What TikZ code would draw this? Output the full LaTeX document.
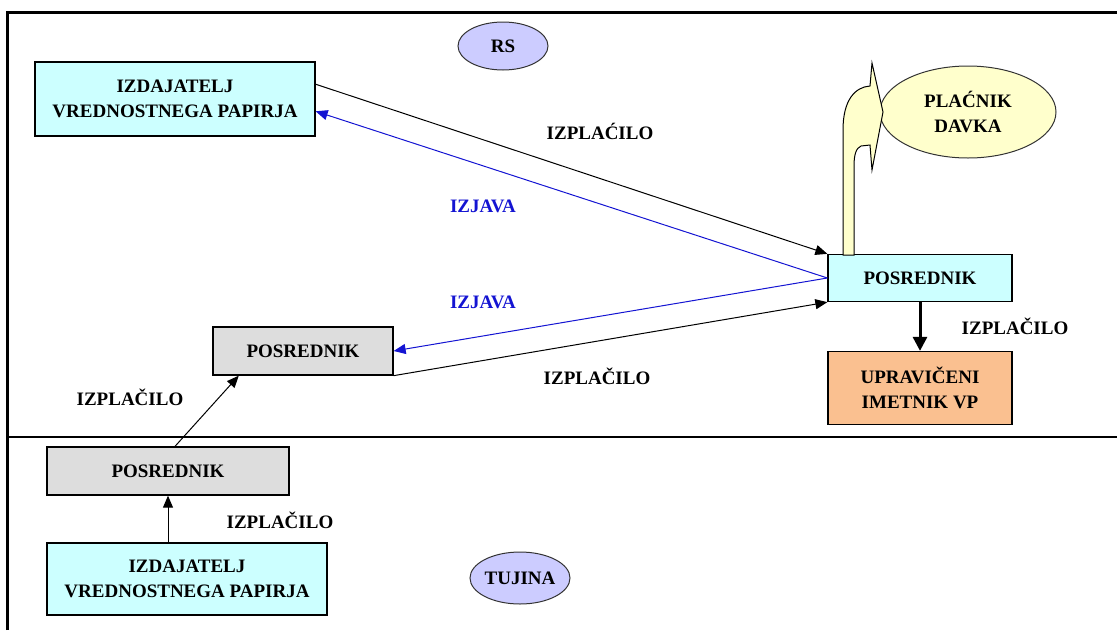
\documentclass[tikz,border=0pt]{standalone}
\usepackage{fontspec}
\setmainfont{Liberation Serif}
\usepackage{tikz}
\usetikzlibrary{arrows.meta,shapes.geometric,positioning}

\definecolor{boxcyan}{RGB}{204,255,255}
\definecolor{boxgrey}{RGB}{221,221,221}
\definecolor{boxorange}{RGB}{250,192,144}
\definecolor{ovallilac}{RGB}{204,204,255}
\definecolor{ovalyellow}{RGB}{255,255,204}
\definecolor{izjblue}{RGB}{20,20,210}

\tikzset{
  box/.style={draw=black, line width=1.3pt, inner sep=0pt, align=center,
    font=\bfseries\fontsize{19}{25}\selectfont},
  oval/.style={ellipse, draw=black!80, line width=1pt, inner sep=0pt, align=center,
    font=\bfseries\fontsize{19}{25}\selectfont},
  lbl/.style={font=\bfseries\fontsize{19}{25}\selectfont},
  arr/.style={line width=1pt, -{Triangle[length=12pt,width=10pt]}}
}

\begin{document}
\begin{tikzpicture}[x=1pt,y=-1pt]
  \useasboundingbox (0,0) rectangle (1117,630);

  % frame and border between RS and abroad
  \draw[line width=3pt] (7.5,630) -- (7.5,12.5) -- (1117,12.5);
  \draw[line width=1.4pt] (7,437) -- (1117,437);

  % RS side
  \node[oval, fill=ovallilac, minimum width=90pt, minimum height=48pt] (rs) at (503,46) {RS};
  \node[box, fill=boxcyan, minimum width=280pt, minimum height=74pt] (izdtop) at (175,99)
    {IZDAJATELJ\\VREDNOSTNEGA PAPIRJA};
  \node[box, fill=boxcyan, minimum width=184pt, minimum height=47pt] (posR) at (920,278) {POSREDNIK};
  \node[box, fill=boxorange, minimum width=184pt, minimum height=73pt] (upr) at (920,388)
    {UPRAVIČENI\\IMETNIK VP};
  \node[box, fill=boxgrey, minimum width=180pt, minimum height=48pt] (posM) at (303,351) {POSREDNIK};
  \node[oval, fill=ovalyellow, minimum width=176pt, minimum height=92pt] (placnik) at (968,112)
    {PLAĆNIK\\DAVKA};

  % abroad
  \node[box, fill=boxgrey, minimum width=242pt, minimum height=48pt] (posL) at (168,471) {POSREDNIK};
  \node[box, fill=boxcyan, minimum width=280pt, minimum height=72pt] (izdbot) at (187,579)
    {IZDAJATELJ\\VREDNOSTNEGA PAPIRJA};
  \node[oval, fill=ovallilac, minimum width=90pt, minimum height=52pt] (tujina) at (520,578) {TUJINA};

  % tax goes out
  \draw[line width=1pt, fill=ovalyellow]
    (843,255) -- (843,130) .. controls (843,100) and (855,87) .. (870,86)
    -- (872,63) -- (883,112) -- (872,170) -- (870,145) -- (861,146)
    .. controls (856,148) and (854,155) .. (854,166) -- (854,255) -- cycle;

  % payments and statements
  \draw[arr] (izdtop.6) -- (posR.north west);
  \draw[arr, izjblue] (posR.west) -- (izdtop.-5);
  \draw[arr, izjblue] (posR.west) -- (posM.east);
  \draw[arr] (posM.south east) -- (posR.south west);
  \draw[line width=3pt, -{Triangle[length=14pt,width=14pt]}] (posR.south) -- (upr.north);
  \draw[arr] (posL.north) ++(7,0) -- (posM.201);
  \draw[arr] (izdbot.north -| posL.south) -- (posL.south);

  \node[lbl] (l1) at (600,131) {IZPLAĆILO};
  \node[lbl, izjblue] (l2) at (483,206) {IZJAVA};
  \node[lbl, izjblue] (l3) at (483,302) {IZJAVA};
  \node[lbl] (l4) at (597,376) {IZPLAČILO};
  \node[lbl] (l5) at (1015,326) {IZPLAČILO};
  \node[lbl] (l6) at (130,397) {IZPLAČILO};
  \node[lbl] (l7) at (280,520) {IZPLAČILO};
\end{tikzpicture}
\end{document}
